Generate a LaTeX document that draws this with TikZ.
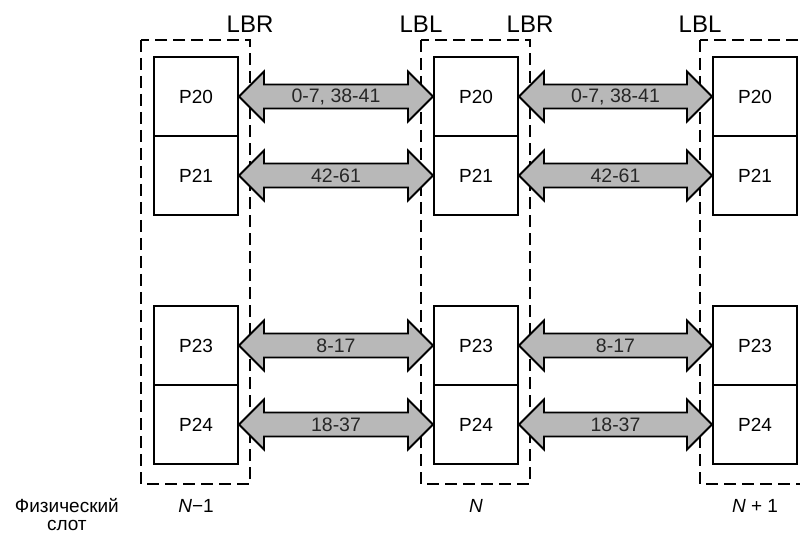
\documentclass[tikz,border=0pt]{standalone}
\usepackage{fontspec}
\setmainfont{Liberation Sans}
\usetikzlibrary{calc, positioning}

\definecolor{arrowgray}{gray}{0.72}

\tikzset{
    port/.style={draw, line width=2pt, minimum width=84pt, minimum height=79pt,
        inner sep=0pt, anchor=north west, font=\fontsize{19}{22}\selectfont},
    slotbox/.style={draw, dash pattern=on 12pt off 6pt, line width=1.6pt},
    linkarrow/.style={draw, line width=1.8pt, fill=arrowgray, line join=miter},
    linklabel/.style={font=\fontsize{19.5}{22}\selectfont, text=black!85},
    toplabel/.style={anchor=base, font=\fontsize{24}{28}\selectfont},
    botlabel/.style={anchor=base, font=\fontsize{19}{18}\selectfont},
}

% double-headed link between two ports
\newcommand{\duplexlink}[3]{%
    \draw[linkarrow] (#1.east) -- ++(25,-25) -- ++(0,13)
        -- ($(#2.west)+(-25,-12)$) -- ++(0,-13) -- (#2.west)
        -- ++(-25,25) -- ++(0,-13) -- ($(#1.east)+(25,12)$) -- ++(0,13) -- cycle;
    \node[linklabel] at ($(#1.east)!0.5!(#2.west)$) {#3};
}

\begin{document}
\begin{tikzpicture}[x=1pt, y=-1pt]
    \useasboundingbox (0,0) rectangle (800,534);

    % Порты в слотах
    \foreach \s/\x in {a/153, b/433, c/712} {
        \foreach \p/\y in {20/56, 21/135, 23/305, 24/384} {
            \node[port] (P\p\s) at (\x,\y) {P\p};
        }
    }

    % Физические слоты
    \foreach \s in {a, b, c} {
        \draw[slotbox] ($(P20\s.north west)+(-12,-16)$) coordinate (slot\s nw)
            rectangle ($(P24\s.south east)+(11,19)$) coordinate (slot\s se);
    }

    % Метки LBR / LBL
    \node[toplabel] (lbra) at ($(slotase |- slotanw)+(0,-7)$) {LBR};
    \node[toplabel] (lblb) at ($(slotbnw)+(0,-7)$) {LBL};
    \node[toplabel] (lbrb) at ($(slotbse |- slotbnw)+(0,-7)$) {LBR};
    \node[toplabel] (lblc) at ($(slotcnw)+(0,-7)$) {LBL};

    % Связи между соседними слотами
    \foreach \l/\r in {a/b, b/c} {
        \duplexlink{P20\l}{P20\r}{0-7, 38-41}
        \duplexlink{P21\l}{P21\r}{42-61}
        \duplexlink{P23\l}{P23\r}{8-17}
        \duplexlink{P24\l}{P24\r}{18-37}
    }

    % Номера слотов
    \node[botlabel] (numa) at ($(P24a.south)+(0,47)$) {\textit{N}−1};
    \node[botlabel] (numb) at ($(P24b.south)+(0,47)$) {\textit{N}};
    \node[botlabel] (numc) at ($(P24c.south)+(0,47)$) {\textit{N} + 1};
    \node[botlabel, anchor=north east, align=center, inner sep=0pt] (physlabel)
        at ($(numa.base)+(-77,-14)$) {Физический\\слот};
\end{tikzpicture}
\end{document}
